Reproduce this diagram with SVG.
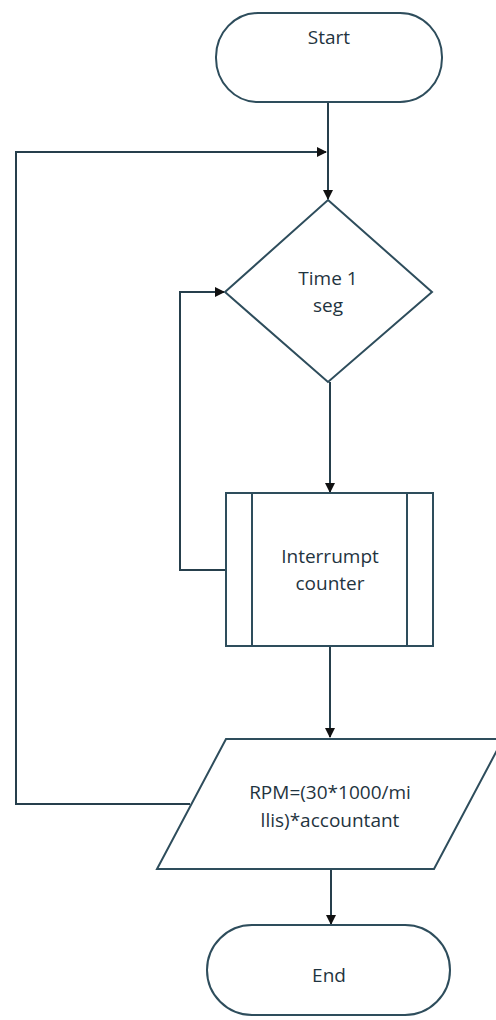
<svg xmlns="http://www.w3.org/2000/svg" width="496" height="1020" viewBox="0 0 496 1020">
<defs>
<marker id="arr" markerWidth="10" markerHeight="10" refX="9" refY="5" orient="auto" markerUnits="userSpaceOnUse">
<path d="M0,0 L10,5 L0,10 Z" fill="#111"/>
</marker>
<style>
.shape{fill:#fff;stroke:#2e4d5c;stroke-width:2}
.conn{fill:none;stroke:#263f4c;stroke-width:2}
.lbl{font-family:"Open Sans","Liberation Sans",sans-serif;font-size:19px;fill:#1f3440;text-anchor:middle}
</style>
</defs>
<rect width="496" height="1020" fill="#fff"/>
<g id="connectors">
<path class="conn" d="M328,102 V199" marker-end="url(#arr)"/>
<path class="conn" d="M190,804 H16 V152 H326" marker-end="url(#arr)"/>
<path class="conn" d="M226,570 H180 V292 H224" marker-end="url(#arr)"/>
<path class="conn" d="M330,382 V492" marker-end="url(#arr)"/>
<path class="conn" d="M330,646 V737" marker-end="url(#arr)"/>
<path class="conn" d="M331,869 V924" marker-end="url(#arr)"/>
</g>
<g id="start">
<rect class="shape" x="216" y="13" width="226" height="89" rx="42" ry="44"/>
<text class="lbl" x="329" y="44">Start</text>
</g>
<g id="decision">
<polygon class="shape" points="328,200 432,292 328,382 225,292"/>
<text class="lbl" x="328" y="285">Time 1</text>
<text class="lbl" x="328" y="312">seg</text>
</g>
<g id="process">
<rect class="shape" x="226" y="493" width="207" height="153"/>
<line class="shape" x1="252" y1="493" x2="252" y2="646"/>
<line class="shape" x1="407" y1="493" x2="407" y2="646"/>
<text class="lbl" x="330" y="563">Interrumpt</text>
<text class="lbl" x="330" y="590">counter</text>
</g>
<g id="io">
<polygon class="shape" points="226,739 503,739 434,869 157,869"/>
<text class="lbl" x="330" y="799">RPM=(30*1000/mi</text>
<text class="lbl" x="330" y="827">llis)*accountant</text>
</g>
<g id="end">
<rect class="shape" x="207" y="925" width="243" height="90" rx="45" ry="45"/>
<text class="lbl" x="329" y="982">End</text>
</g>
</svg>
